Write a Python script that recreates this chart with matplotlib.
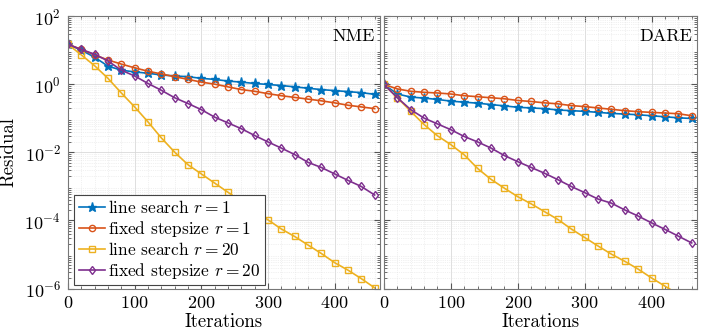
import numpy as np
import matplotlib
matplotlib.use("Agg")
import matplotlib.pyplot as plt
from matplotlib.ticker import LogLocator, MultipleLocator, NullFormatter

plt.rcParams['font.family'] = 'serif'
plt.rcParams['font.serif'] = ['cmr10', 'DejaVu Serif']
plt.rcParams['mathtext.fontset'] = 'cm'
plt.rcParams['axes.formatter.use_mathtext'] = True

iters = np.arange(0, 461, 20)

# log10 of residuals, NME
nme_ls_r1 = [1.18, 1.01, 0.80, 0.54, 0.42, 0.37, 0.33, 0.28, 0.25, 0.23, 0.18, 0.15,
             0.10, 0.07, 0.03, 0.0, -0.03, -0.07, -0.11, -0.15, -0.18, -0.21, -0.24, -0.29]
nme_fs_r1 = [1.18, 1.03, 0.87, 0.72, 0.60, 0.49, 0.39, 0.31, 0.23, 0.15, 0.07, 0.01,
             -0.07, -0.15, -0.20, -0.27, -0.33, -0.38, -0.43, -0.48, -0.54, -0.61, -0.66, -0.71]
nme_ls_r20 = [1.18, 0.87, 0.55, 0.18, -0.25, -0.66, -1.10, -1.57, -1.99, -2.36, -2.63, -2.90,
              -3.17, -3.44, -3.71, -3.98, -4.25, -4.47, -4.72, -4.97, -5.24, -5.46, -5.71, -5.98]
nme_fs_r20 = [1.18, 1.03, 0.89, 0.69, 0.42, 0.25, 0.03, -0.17, -0.39, -0.56, -0.74, -0.96,
              -1.13, -1.30, -1.50, -1.69, -1.87, -2.06, -2.29, -2.44, -2.63, -2.82, -3.00, -3.25]

# log10 of residuals, DARE
dare_ls_r1 = [0.0, -0.28, -0.37, -0.40, -0.44, -0.49, -0.52, -0.55, -0.59, -0.63, -0.67, -0.69,
              -0.71, -0.75, -0.77, -0.79, -0.82, -0.85, -0.87, -0.89, -0.92, -0.95, -0.98, -1.00]
dare_fs_r1 = [0.0, -0.13, -0.20, -0.23, -0.25, -0.28, -0.33, -0.36, -0.39, -0.42, -0.47, -0.50,
              -0.54, -0.57, -0.62, -0.65, -0.69, -0.73, -0.77, -0.80, -0.82, -0.84, -0.86, -0.92]
dare_ls_r20 = [0.0, -0.39, -0.79, -1.18, -1.51, -1.77, -2.07, -2.47, -2.79, -3.05, -3.30, -3.51,
               -3.74, -3.97, -4.25, -4.50, -4.75, -4.99, -5.20, -5.43, -5.69, -5.93, -6.17, -6.41]
dare_fs_r20 = [0.0, -0.39, -0.74, -0.99, -1.16, -1.33, -1.53, -1.69, -1.87, -2.09, -2.27, -2.44,
               -2.61, -2.80, -3.00, -3.18, -3.37, -3.49, -3.69, -3.87, -4.07, -4.26, -4.46, -4.66]

labels = [r'line search $r = 1$', r'fixed stepsize $r = 1$',
          r'line search $r = 20$', r'fixed stepsize $r = 20$']
colors = ['#0072BD', '#D95319', '#EDB120', '#7E2F8E']
markers = ['*', 'o', 's', 'd']
msizes = [6.5, 4.5, 4.0, 4.5]

fig = plt.figure(figsize=(7.18, 3.35), dpi=100)
ax1 = fig.add_axes([0.0947, 0.1388, 0.4345, 0.812])
ax2 = fig.add_axes([0.5348, 0.1388, 0.4360, 0.812])

panels = [(ax1, [nme_ls_r1, nme_fs_r1, nme_ls_r20, nme_fs_r20], 'NME'),
          (ax2, [dare_ls_r1, dare_fs_r1, dare_ls_r20, dare_fs_r20], 'DARE')]

for ax, series, name in panels:
    for vals, lab, c, m, ms in zip(series, labels, colors, markers, msizes):
        face = c if m == '*' else 'none'
        ax.semilogy(iters, 10.0 ** np.array(vals), color=c, marker=m, ms=ms,
                    mfc=face, mec=c, mew=1.0, lw=1.2, label=lab)
    ax.set_xlim(0, 468)
    ax.set_ylim(1e-6, 1e2)
    ax.yaxis.set_major_locator(LogLocator(base=10, subs=(1.0,), numticks=10))
    ax.yaxis.set_minor_locator(LogLocator(base=10, subs=np.arange(2, 10), numticks=20))
    ax.yaxis.set_minor_formatter(NullFormatter())
    ax.set_yticks([1e-6, 1e-4, 1e-2, 1e0, 1e2])
    ax.xaxis.set_major_locator(MultipleLocator(100))
    ax.xaxis.set_minor_locator(MultipleLocator(20))
    ax.grid(True, which='major', color='#d9d9d9', lw=0.6, ls='-')
    ax.grid(True, which='minor', color='#e3e3e3', lw=0.5, ls=':')
    ax.set_axisbelow(True)
    ax.tick_params(which='both', direction='in', top=True, right=True,
                   color='#555555', labelsize=13, pad=5)
    ax.tick_params(which='major', length=4)
    ax.tick_params(which='minor', length=2)
    for sp in ax.spines.values():
        sp.set_color('#777777')
        sp.set_linewidth(0.8)
    ax.set_xlabel('Iterations', fontsize=13.5, labelpad=1)
    ax.text(0.985, 0.955, name, transform=ax.transAxes, ha='right', va='top', fontsize=13)

ax2.tick_params(axis='y', which='both', labelleft=False)
ax1.set_ylabel('Residual', fontsize=13.5, labelpad=5)

leg = ax1.legend(loc='lower left', bbox_to_anchor=(0.02, 0.012), borderaxespad=0,
                 fontsize=12.5, handlelength=1.5, handletextpad=0.2, borderpad=0.25,
                 labelspacing=0.15, numpoints=1, fancybox=False, framealpha=1)
leg.get_frame().set_edgecolor('#444444')
leg.get_frame().set_linewidth(0.8)

fig.savefig('out.png', dpi=100)
